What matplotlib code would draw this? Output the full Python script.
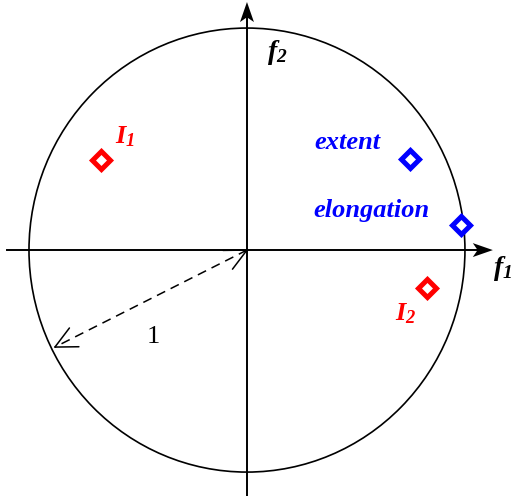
import numpy as np
import matplotlib.pyplot as plt
from matplotlib.patches import Ellipse, Polygon

plt.rcParams['mathtext.fontset'] = 'custom'
plt.rcParams['mathtext.rm'] = 'Liberation Serif:bold:italic'
plt.rcParams['mathtext.it'] = 'Liberation Serif:bold:italic'

# points in the unit-radius feature plane
names = ['$I_1$', 'extent', 'elongation', '$I_2$']
px = [-0.670, 0.748, 0.982, 0.826]
py = [0.413, 0.417, 0.115, -0.174]
colors = ['red', 'blue', 'blue', 'red']
# label centres
lx = [-0.56, 0.459, 0.573, 0.729]
ly = [0.518, 0.495, 0.183, -0.294]

fig = plt.figure(figsize=(5.14, 4.96), dpi=100)
ax = fig.add_axes([0, 0, 1, 1])
ax.set_xlim(-1.133, 1.225)
ax.set_ylim(-1.128, 1.147)
ax.set_aspect('equal')
ax.axis('off')

# circle (drawn slightly taller than wide, as in the original)
ax.add_patch(Ellipse((0, 0), 2.0, 2.037, fill=False, lw=1.2, color='black'))


def unit(v):
    v = np.array(v, float)
    return v / np.hypot(*v)


def head(tip, direction, length=0.092, half=0.032, notch=0.022):
    d = unit(direction)
    n = np.array([-d[1], d[0]])
    t = np.array(tip)
    pts = [t, t - length * d + half * n, t - (length - notch) * d, t - length * d - half * n]
    ax.add_patch(Polygon(pts, closed=True, color='black', lw=0, zorder=4))


def open_head(tip, direction, wing=0.11, angle=26):
    d = unit(direction)
    t = np.array(tip)
    for a in (angle, -angle):
        r = np.radians(a)
        rot = np.array([[np.cos(r), -np.sin(r)], [np.sin(r), np.cos(r)]])
        w = t - wing * rot @ d
        ax.plot([t[0], w[0]], [t[1], w[1]], color='black', lw=1.1, solid_capstyle='round')


# coordinate axes
ax.plot([-1.10, 1.10], [0, 0], color='black', lw=1.4)
ax.plot([0, 0], [-1.14, 1.10], color='black', lw=1.4)
head((1.128, 0), (1, 0))
head((0, 1.138), (0, 1))
ax.text(1.174, -0.083, '$f_1$', fontsize=20, ha='center', va='center')
ax.text(0.138, 0.908, '$f_2$', fontsize=20, ha='center', va='center')

# radius arrow (dashed shaft, open solid heads at both ends)
r_end = (-0.881, -0.445)
ax.plot([0, r_end[0]], [0, r_end[1]], color='black', lw=1.1, dashes=(6, 4))
open_head(r_end, r_end)
open_head((0, 0), (-r_end[0], -r_end[1]))
ax.text(-0.431, -0.399, '1', fontsize=19, family='Liberation Serif', ha='center', va='center')

for name, x, y, c, tx, ty in zip(names, px, py, colors, lx, ly):
    ax.plot(x, y, marker='D', ms=9.5, mfc='white', mec=c, mew=3.6, zorder=5)
    ax.text(tx, ty, name, color=c, fontsize=19, family='Liberation Serif',
            weight='bold', style='italic', ha='center', va='center')

fig.savefig('out.png', dpi=100)
